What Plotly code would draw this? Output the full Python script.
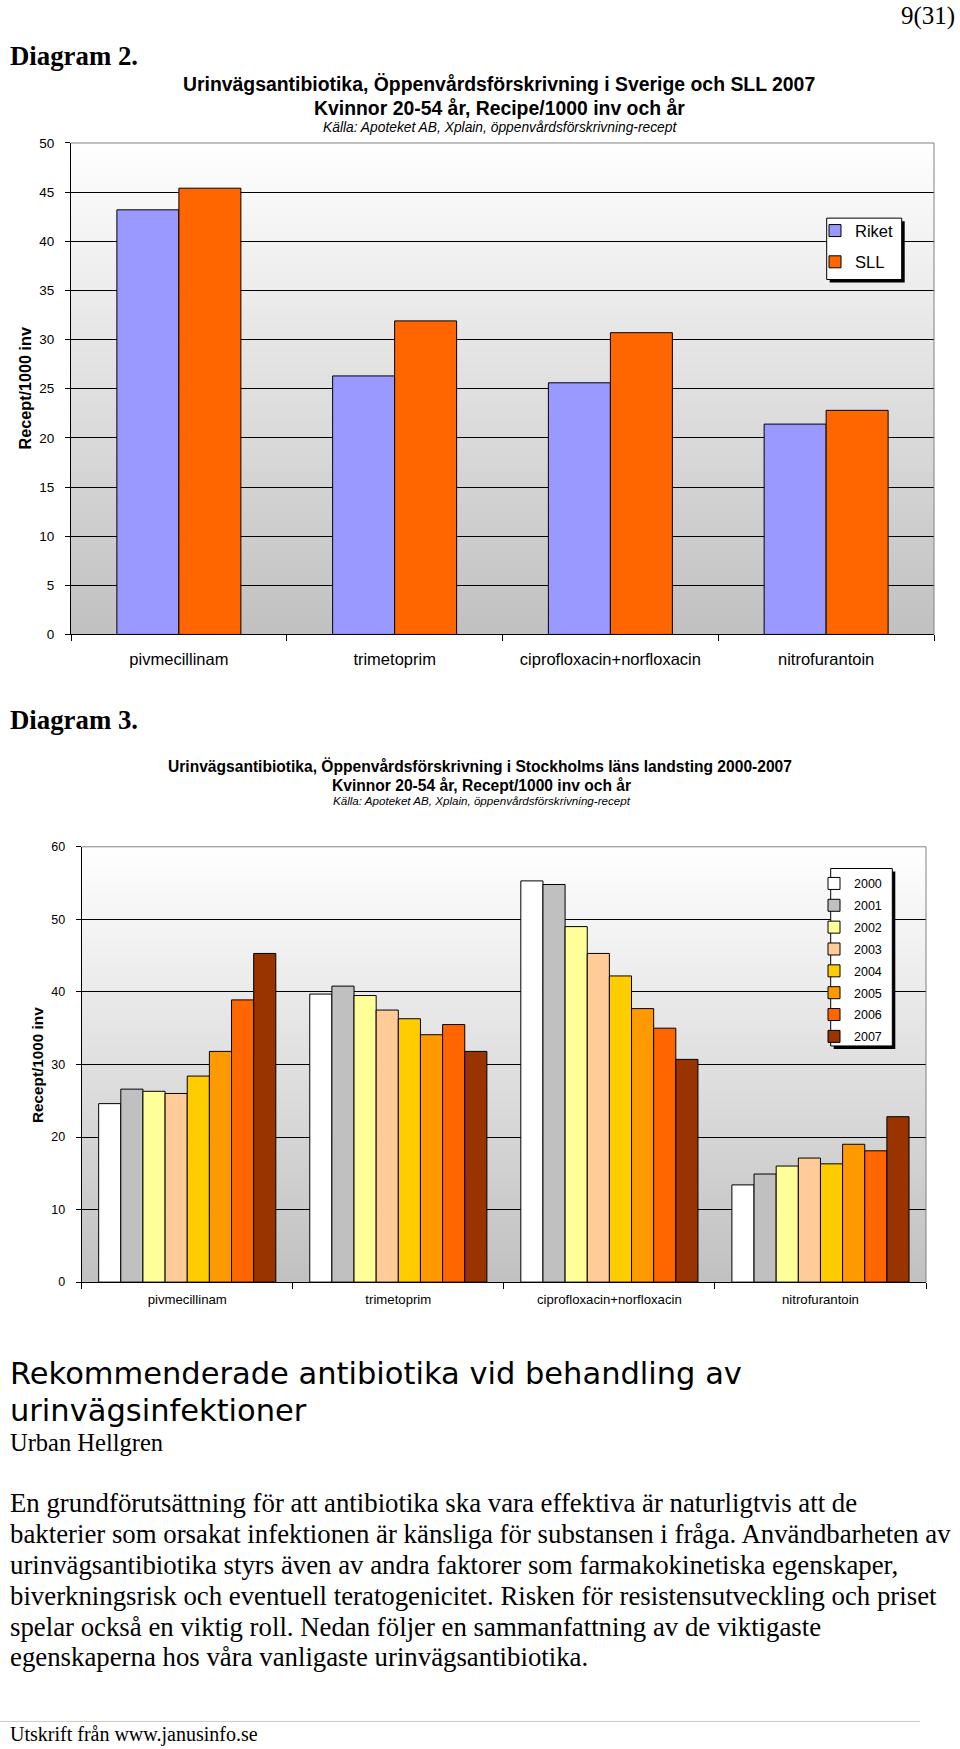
import plotly.graph_objects as go

W, H = 960, 1749

# ---------------- data ----------------
categories = ["pivmecillinam", "trimetoprim", "ciprofloxacin+norfloxacin", "nitrofurantoin"]

# Diagram 2 (2007, Riket vs SLL)
riket = [43.2, 26.3, 25.6, 21.4]
sll = [45.4, 31.9, 30.7, 22.8]

# Diagram 3 (SLL 2000-2007)
years = ["2000", "2001", "2002", "2003", "2004", "2005", "2006", "2007"]
v2000 = [24.6, 39.7, 55.3, 13.4]
v2001 = [26.6, 40.8, 54.8, 14.9]
v2002 = [26.3, 39.5, 49.0, 16.0]
v2003 = [26.0, 37.5, 45.3, 17.1]
v2004 = [28.4, 36.3, 42.2, 16.3]
v2005 = [31.8, 34.1, 37.7, 19.0]
v2006 = [38.9, 35.5, 35.0, 18.1]
v2007 = [45.3, 31.8, 30.7, 22.8]
year_values = [v2000, v2001, v2002, v2003, v2004, v2005, v2006, v2007]

year_colors = ["#FFFFFF", "#C0C0C0", "#FFFF99", "#FFCC99", "#FFCC00", "#FF9900", "#FF6600", "#993300"]
riket_color = "#9999FF"
sll_color = "#FF6600"


def px(x):
    return x / W


def Y(y):
    # small vertical calibration of measured page positions
    return y + 0.0094 * (y - 733)


def py(y, calib=True):
    return 1 - (Y(y) if calib else y) / H


SANS = "Liberation Sans, Arial, sans-serif"
SERIF = "Liberation Serif, Times New Roman, serif"

fig = go.Figure()

# ---------------- chart 1 bars ----------------
w1 = 0.2873
fig.add_trace(go.Bar(x=categories, y=riket, name="Riket", width=w1, offset=-w1,
                     marker=dict(color=riket_color, line=dict(color="black", width=1)),
                     xaxis="x", yaxis="y", legend="legend", legendgroup="riket"))
fig.add_trace(go.Bar(x=categories, y=sll, name="SLL", width=w1, offset=0,
                     marker=dict(color=sll_color, line=dict(color="black", width=1)),
                     xaxis="x", yaxis="y", legend="legend", legendgroup="sll"))

# ---------------- chart 2 bars ----------------
w2 = 0.1049
for i, (yr, vals, col) in enumerate(zip(years, year_values, year_colors)):
    fig.add_trace(go.Bar(x=categories, y=vals, name=yr, width=w2, offset=-4 * w2 + i * w2,
                         marker=dict(color=col, line=dict(color="black", width=1)),
                         xaxis="x2", yaxis="y2", legend="legend2", legendgroup=yr))

shapes = []


def gradient(xref, yref, n=60, top=255, bot=192):
    for i in range(n):
        frac = (i + 0.5) / n
        c = round(bot + (top - bot) * frac)
        shapes.append(dict(type="rect", xref=xref, yref=yref, x0=0, x1=1,
                           y0=i / n, y1=min(1, (i + 1) / n + 0.003),
                           fillcolor=f"rgb({c},{c},{c})", line=dict(width=0), layer="below"))


gradient("x domain", "y domain")
gradient("x2 domain", "y2 domain")

# gray top/right borders
for xr, yr in (("x domain", "y domain"), ("x2 domain", "y2 domain")):
    shapes.append(dict(type="line", xref=xr, yref=yr, x0=0, x1=1, y0=1, y1=1,
                       line=dict(color="#808080", width=1), layer="above"))
    shapes.append(dict(type="line", xref=xr, yref=yr, x0=1, x1=1, y0=0, y1=1,
                       line=dict(color="#808080", width=1), layer="above"))


def legend_box(x0, y0, x1, y1, off=3):
    shapes.append(dict(type="rect", xref="paper", yref="paper",
                       x0=px(x0 + off), x1=px(x1 + off), y0=py(y0 + off), y1=py(y1 + off),
                       fillcolor="black", line=dict(width=0), layer="above"))
    shapes.append(dict(type="rect", xref="paper", yref="paper",
                       x0=px(x0), x1=px(x1), y0=py(y0), y1=py(y1),
                       fillcolor="white", line=dict(color="black", width=1), layer="above"))


legend_box(826.7, 217.8, 901.7, 279.1)
legend_box(830.7, 867.7, 892.3, 1045)

# footer rule
shapes.append(dict(type="line", xref="paper", yref="paper", x0=0, x1=px(920), y0=py(1720), y1=py(1720),
                   line=dict(color="#C8C8C8", width=1)))

annotations = []


def txt(text, x, y, size, family=SANS, xanchor="left", bold=False, italic=False, angle=0,
        color="black", calib=True):
    annotations.append(dict(text=text, x=px(x), y=py(y, calib), xref="paper", yref="paper",
                            xanchor=xanchor, yanchor="middle", showarrow=False, textangle=angle,
                            font=dict(family=family, size=size, color=color,
                                      weight="bold" if bold else "normal",
                                      style="italic" if italic else "normal")))


txt("9(31)", 957, 9, 25, SERIF, xanchor="right", calib=False)
txt("Diagram 2.", 8, 56, 26.8, SERIF, bold=True)
txt("Urinvägsantibiotika, Öppenvårdsförskrivning i Sverige och SLL 2007", 499, 84, 19.4, bold=True, xanchor="center")
txt("Kvinnor 20-54 år, Recipe/1000 inv och år", 499, 107.5, 19.4, bold=True, xanchor="center")
txt("Källa: Apoteket AB, Xplain, öppenvårdsförskrivning-recept", 500, 127, 13.8, italic=True, xanchor="center")
txt("Recept/1000 inv", 25, 388, 16.2, bold=True, xanchor="center", angle=-90)

txt("Diagram 3.", 8, 719, 26.8, SERIF, bold=True)
txt("Urinvägsantibiotika, Öppenvårdsförskrivning i Stockholms läns landsting 2000-2007", 480, 765, 15.6, bold=True, xanchor="center")
txt("Kvinnor 20-54 år, Recept/1000 inv och år", 481, 785, 15.6, bold=True, xanchor="center")
txt("Källa: Apoteket AB, Xplain, öppenvårdsförskrivning-recept", 482, 800, 11.6, italic=True, xanchor="center")
txt("Recept/1000 inv", 38, 1064, 15.3, bold=True, xanchor="center", angle=-90)

txt("Rekommenderade antibiotika vid behandling av", 8, 1372, 30.5, "DejaVu Sans, sans-serif")
txt("urinvägsinfektioner", 8, 1409, 30.5, "DejaVu Sans, sans-serif")
txt("Urban Hellgren", 8, 1441, 24.5, SERIF)

body = [
    "En grundförutsättning för att antibiotika ska vara effektiva är naturligtvis att de",
    "bakterier som orsakat infektionen är känsliga för substansen i fråga. Användbarheten av",
    "urinvägsantibiotika styrs även av andra faktorer som farmakokinetiska egenskaper,",
    "biverkningsrisk och eventuell teratogenicitet. Risken för resistensutveckling och priset",
    "spelar också en viktig roll. Nedan följer en sammanfattning av de viktigaste",
    "egenskaperna hos våra vanligaste urinvägsantibiotika.",
]
body_y = [1501.5, 1532.5, 1563.5, 1594.5, 1625.5, 1656]
for line, yy in zip(body, body_y):
    txt(line, 8, yy, 26.8, SERIF)

txt("Utskrift från www.janusinfo.se", 8, 1733, 20, SERIF)

axis_common = dict(showline=True, linecolor="black", linewidth=1, ticks="outside",
                   tickcolor="black", zeroline=False)

fig.update_layout(
    width=W, height=H, autosize=False,
    margin=dict(l=0, r=0, t=0, b=0),
    paper_bgcolor="white", plot_bgcolor="rgba(0,0,0,0)",
    barmode="overlay",
    showlegend=True,
    shapes=shapes,
    annotations=annotations,
    xaxis=dict(domain=[px(71), px(934)], anchor="y", type="category", categoryarray=categories,
               tickson="boundaries", ticklen=6, showgrid=False, ticklabelstandoff=10,
               tickfont=dict(family=SANS, size=16.5, color="black"), **axis_common),
    yaxis=dict(domain=[py(633.8), py(142.7)], anchor="x", range=[0, 50], dtick=5,
               showgrid=True, gridcolor="black", gridwidth=1, ticklen=5, ticklabelstandoff=8,
               tickfont=dict(family=SANS, size=13.5, color="black"), **axis_common),
    xaxis2=dict(domain=[px(81.7), px(926)], anchor="y2", type="category", categoryarray=categories,
                tickson="boundaries", ticklen=6, showgrid=False, ticklabelstandoff=5,
                tickfont=dict(family=SANS, size=13.2, color="black"), **axis_common),
    yaxis2=dict(domain=[py(1281), py(846)], anchor="x2", range=[0, 60], dtick=10,
                showgrid=True, gridcolor="black", gridwidth=1, ticklen=5, ticklabelstandoff=8,
                tickfont=dict(family=SANS, size=12.5, color="black"), **axis_common),
    legend=dict(x=px(815), y=py(213), xanchor="left", yanchor="top", bgcolor="rgba(0,0,0,0)",
                borderwidth=0, font=dict(family=SANS, size=16.5, color="black"), tracegroupgap=6.8,
                itemclick=False),
    legend2=dict(x=px(814), y=py(868), xanchor="left", yanchor="top", bgcolor="rgba(0,0,0,0)",
                 borderwidth=0, font=dict(family=SANS, size=12.5, color="black"), tracegroupgap=2.6,
                 itemclick=False),
)

fig.write_html("out.html", config={"displayModeBar": False},
               post_script="document.body.style.margin='0';")
